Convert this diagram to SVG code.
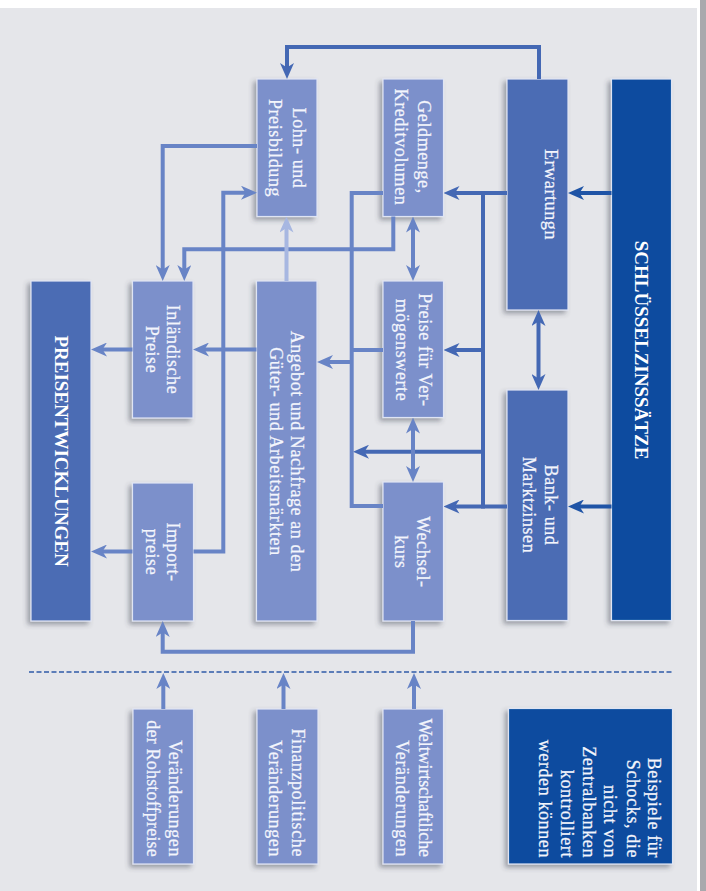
<svg xmlns="http://www.w3.org/2000/svg" width="706" height="891" viewBox="0 0 706 891">
<defs>
<filter id="sh" x="-40%" y="-15%" width="180%" height="130%">
<feDropShadow dx="-3" dy="3" stdDeviation="2.5" flood-color="#3c414d" flood-opacity="0.45"/>
</filter>
<marker id="aL" viewBox="0 0 16 14" refX="10" refY="7" markerWidth="16" markerHeight="14" markerUnits="userSpaceOnUse" orient="auto-start-reverse"><path d="M0,0 L16,7 L0,14 L4.5,7 Z" fill="#6884c6"/></marker>
<marker id="aM" viewBox="0 0 16 14" refX="10" refY="7" markerWidth="16" markerHeight="14" markerUnits="userSpaceOnUse" orient="auto-start-reverse"><path d="M0,0 L16,7 L0,14 L4.5,7 Z" fill="#4468b4"/></marker>
<marker id="aD" viewBox="0 0 16 14" refX="10" refY="7" markerWidth="16" markerHeight="14" markerUnits="userSpaceOnUse" orient="auto-start-reverse"><path d="M0,0 L16,7 L0,14 L4.5,7 Z" fill="#1f54a6"/></marker>
<marker id="aP" viewBox="0 0 16 14" refX="10" refY="7" markerWidth="16" markerHeight="14" markerUnits="userSpaceOnUse" orient="auto-start-reverse"><path d="M0,0 L16,7 L0,14 L4.5,7 Z" fill="#a7b7e1"/></marker>
</defs>
<style>
.bx{stroke:#dfe4f4;stroke-width:1.2;filter:url(#sh)}
.lt{fill:#7b90cb}
.md{fill:#4b6cb4}
.dk{fill:#0a4c9f}
.t{font-family:"Liberation Serif","Times New Roman",serif;font-size:18px;letter-spacing:0.6px;fill:#f3f5fc;stroke:#f3f5fc;stroke-width:0.25px}
.tb{font-family:"Liberation Serif","Times New Roman",serif;font-size:19px;font-weight:bold;fill:#ffffff}
.c{fill:none;stroke-width:4;stroke-linejoin:miter}
.cl{stroke:#6884c6}
.cm{stroke:#4468b4}
.cd{stroke:#1f54a6}
.cp{stroke:#a7b7e1}
</style>

<rect x="0" y="0" width="706" height="891" fill="#ffffff"/>
<rect x="0" y="8" width="697" height="883" fill="#e5e6ea"/>
<rect x="700" y="0" width="6" height="891" fill="#a9a9ad"/>

<line x1="29" y1="672" x2="674" y2="672" stroke="#2f5ba8" stroke-width="1.3" stroke-dasharray="5 2.5"/>

<g id="n-schluessel">
<rect class="bx dk" x="611.5" y="79" width="60" height="541.5"/>
<text class="tb" transform="translate(641.5,350) rotate(90)" text-anchor="middle" x="0" y="6.5">SCHLÜSSELZINSSÄTZE</text>
</g>
<g id="n-erwartungn">
<rect class="bx md" x="507" y="79" width="61" height="231"/>
<text class="t" transform="translate(537.5,194.5) rotate(90)" text-anchor="middle" x="0" y="-7.5">Erwartungn</text>
</g>
<g id="n-bank">
<rect class="bx md" x="507" y="390" width="61" height="230.5"/>
<text class="t" transform="translate(537.5,505) rotate(90)" text-anchor="middle"><tspan x="0" y="-7.5">Bank- und</tspan><tspan x="0" y="14.8">Marktzinsen</tspan></text>
</g>
<g id="n-geldmenge">
<rect class="bx lt" x="383" y="79" width="60.5" height="137.5"/>
<text class="t" transform="translate(413.25,147) rotate(90)" text-anchor="middle"><tspan x="0" y="-4.5">Geldmenge,</tspan><tspan x="0" y="18.3">Kreditvolumen</tspan></text>
</g>
<g id="n-preise-vermoegen">
<rect class="bx lt" x="383" y="281" width="60.5" height="136.5"/>
<text class="t" transform="translate(413.25,350) rotate(90)" text-anchor="middle"><tspan x="0" y="-5.75">Preise für Ver-</tspan><tspan x="0" y="17">mögenswerte</tspan></text>
</g>
<g id="n-wechselkurs">
<rect class="bx lt" x="383" y="482" width="60.5" height="139"/>
<text class="t" transform="translate(413.25,552) rotate(90)" text-anchor="middle"><tspan x="0" y="-3.75">Wechsel-</tspan><tspan x="0" y="18.25">kurs</tspan></text>
</g>
<g id="n-lohn">
<rect class="bx lt" x="257" y="79" width="60" height="137.5"/>
<text class="t" transform="translate(287,148) rotate(90)" text-anchor="middle"><tspan x="0" y="-5.7">Lohn- und</tspan><tspan x="0" y="17.7">Preisbildung</tspan></text>
</g>
<g id="n-angebot">
<rect class="bx lt" x="256.5" y="281" width="60.5" height="340"/>
<text class="t" transform="translate(286.5,451.5) rotate(90)" text-anchor="middle"><tspan x="0" y="-4.2">Angebot und Nachfrage an den</tspan><tspan x="0" y="16.5">Güter- und Arbeitsmärkten</tspan></text>
</g>
<g id="n-inlaendische">
<rect class="bx lt" x="132.5" y="281" width="60.5" height="137"/>
<text class="t" transform="translate(162.75,349.5) rotate(90)" text-anchor="middle"><tspan x="0" y="-4">Inländische</tspan><tspan x="0" y="16.75">Preise</tspan></text>
</g>
<g id="n-import">
<rect class="bx lt" x="132.5" y="483" width="61" height="138"/>
<text class="t" transform="translate(162.75,552) rotate(90)" text-anchor="middle"><tspan x="0" y="-4">Import-</tspan><tspan x="0" y="16.75">preise</tspan></text>
</g>
<g id="n-preisentwicklungen">
<rect class="bx md" x="31" y="281" width="60" height="340"/>
<text class="tb" transform="translate(61,451) rotate(90)" text-anchor="middle" x="0" y="6">PREISENTWICKLUNGEN</text>
</g>
<g id="n-rohstoff">
<rect class="bx lt" x="133" y="709" width="60.5" height="155"/>
<text class="t" transform="translate(163.25,857) rotate(90)" text-anchor="end"><tspan x="0" y="-6">Veränderungen</tspan><tspan x="0" y="16.5" style="letter-spacing:0.2px">der Rohstoffpreise</tspan></text>
</g>
<g id="n-finanz">
<rect class="bx lt" x="257" y="709" width="61" height="155"/>
<text class="t" transform="translate(287.5,857) rotate(90)" text-anchor="end"><tspan x="0" y="-4.2">Finanzpolitische</tspan><tspan x="0" y="18.2">Veränderungen</tspan></text>
</g>
<g id="n-welt">
<rect class="bx lt" x="383" y="709" width="60.5" height="155"/>
<text class="t" transform="translate(413.25,857) rotate(90)" text-anchor="end"><tspan x="0" y="-5.75" style="letter-spacing:-0.1px">Weltwirtschaftliche</tspan><tspan x="0" y="17.25">Veränderungen</tspan></text>
</g>
<g id="n-beispiele">
<rect class="bx dk" x="508.5" y="708.5" width="164" height="155.5"/>
<text class="t" transform="translate(590.5,858) rotate(90)" text-anchor="end"><tspan x="0" y="-57.8">Beispiele für</tspan><tspan x="0" y="-36.2">Schocks, die</tspan><tspan x="0" y="-13.8">nicht von</tspan><tspan x="0" y="7.8">Zentralbanken</tspan><tspan x="0" y="29.5">kontrolliert</tspan><tspan x="0" y="51.2">werden können</tspan></text>
</g>

<g id="connectors">
<polyline class="c cm" points="539,79 539,47 287,47 287,73" marker-end="url(#aM)"/>
<line class="c cd" x1="611.5" y1="193" x2="574" y2="193" marker-end="url(#aD)"/>
<line class="c cd" x1="611.5" y1="506.5" x2="574" y2="506.5" marker-end="url(#aD)"/>
<line class="c cm" x1="538.5" y1="316" x2="538.5" y2="384" marker-start="url(#aM)" marker-end="url(#aM)"/>
<line class="c cm" x1="507" y1="193" x2="449.5" y2="193" marker-end="url(#aM)"/>
<line class="c cm" x1="483" y1="191" x2="483" y2="508.5"/>
<line class="c cm" x1="483" y1="350" x2="449.5" y2="350" marker-end="url(#aM)"/>
<line class="c cm" x1="483" y1="451.7" x2="359" y2="451.7" marker-end="url(#aM)"/>
<line class="c cm" x1="507" y1="506.5" x2="449.5" y2="506.5" marker-end="url(#aM)"/>
<polyline class="c cl" points="383,193 351.7,193 351.7,506 383,506"/>
<line class="c cl" x1="351.7" y1="350" x2="383" y2="350"/>
<line class="c cl" x1="351.7" y1="362" x2="323" y2="362" marker-end="url(#aL)"/>
<line class="c cl" x1="413" y1="222.5" x2="413" y2="275" marker-start="url(#aL)" marker-end="url(#aL)"/>
<line class="c cl" x1="413" y1="423.5" x2="413" y2="476" marker-start="url(#aL)" marker-end="url(#aL)"/>
<polyline class="c cl" points="393.3,216.5 393.3,249.3 184.3,249.3 184.3,275" marker-end="url(#aL)"/>
<polyline class="c cl" points="257,146 162.7,146 162.7,275" marker-end="url(#aL)"/>
<line class="c cp" x1="286.5" y1="281" x2="286.5" y2="222.5" marker-end="url(#aP)"/>
<polyline class="c cl" points="193.5,551.5 223.3,551.5 223.3,192.7 251,192.7" marker-end="url(#aL)"/>
<line class="c cl" x1="256.5" y1="349.5" x2="199" y2="349.5" marker-end="url(#aL)"/>
<line class="c cl" x1="132.5" y1="349.5" x2="97" y2="349.5" marker-end="url(#aL)"/>
<line class="c cl" x1="132.5" y1="551.5" x2="97" y2="551.5" marker-end="url(#aL)"/>
<polyline class="c cl" points="413,621 413,651.7 162.7,651.7 162.7,627" marker-end="url(#aL)"/>
<line class="c cl" x1="163.3" y1="709" x2="163.3" y2="679" marker-end="url(#aL)"/>
<line class="c cl" x1="283.5" y1="709" x2="283.5" y2="679" marker-end="url(#aL)"/>
<line class="c cl" x1="414" y1="709" x2="414" y2="679" marker-end="url(#aL)"/>
</g>
</svg>
